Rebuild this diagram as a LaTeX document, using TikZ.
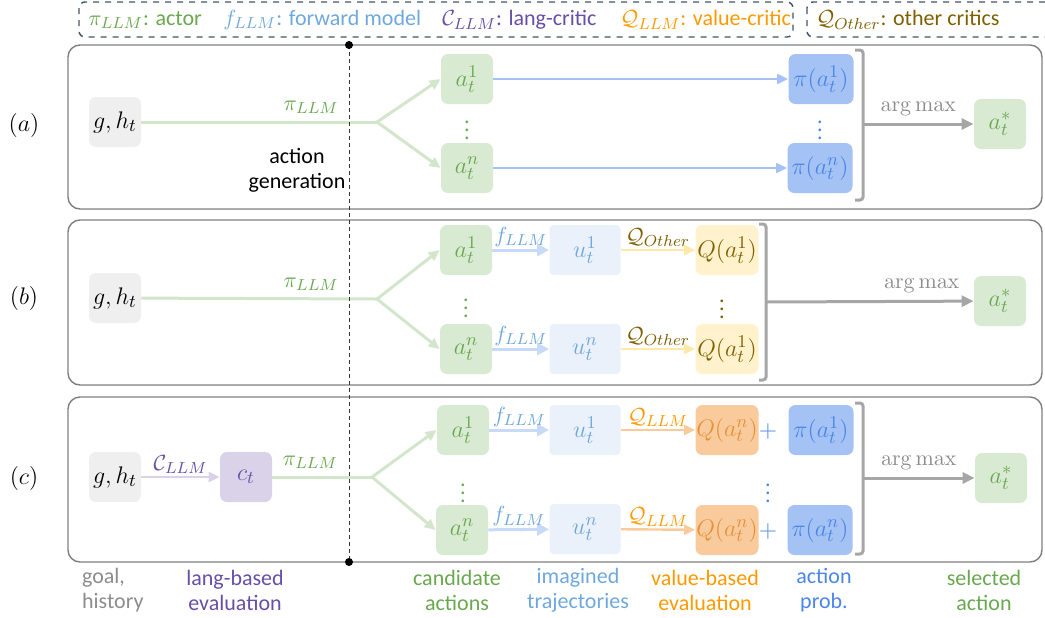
\documentclass[tikz,border=0pt]{standalone}
\usepackage[no-math]{fontspec}
\setmainfont{Carlito}
\usetikzlibrary{positioning, arrows.meta, calc}

\definecolor{goalfill}{HTML}{EFEFEF}
\definecolor{actfill}{HTML}{D9EAD3}
\definecolor{actgreen}{HTML}{6AA84F}
\definecolor{actedge}{HTML}{D3E6CC}
\definecolor{probfill}{HTML}{A4C2F4}
\definecolor{probblue}{HTML}{4A86E8}
\definecolor{trajfill}{HTML}{EAF1FB}
\definecolor{trajblue}{HTML}{6FA8DC}
\definecolor{trajedge}{HTML}{C9DAF8}
\definecolor{otherfill}{HTML}{FFF2CC}
\definecolor{otherbrown}{HTML}{7F6000}
\definecolor{otheredge}{HTML}{FFE8A8}
\definecolor{valfill}{HTML}{F9CB9C}
\definecolor{valorange}{HTML}{FF9900}
\definecolor{valtext}{HTML}{E69138}
\definecolor{critfill}{HTML}{D9D2E9}
\definecolor{critpurple}{HTML}{674EA7}
\definecolor{selgray}{HTML}{A6A6A6}
\definecolor{textgray}{HTML}{8C8C8C}
\definecolor{panelgray}{HTML}{7F7F7F}
\definecolor{legendslate}{HTML}{44546A}

\begin{document}
\begin{tikzpicture}[x=0.5pt, y=-0.5pt,
    every node/.style={font=\fontsize{11}{12.5}\selectfont},
    box/.style={rectangle, rounded corners=3.5pt, inner sep=0pt, minimum width=26pt, minimum height=25pt, text centered, font=\fontsize{12.5}{14}\selectfont},
    goal/.style={box, fill=goalfill},
    cand/.style={box, fill=actfill, text=actgreen},
    prob/.style={box, fill=probfill, text=probblue, minimum width=32.5pt},
    traj/.style={box, fill=trajfill, text=trajblue, minimum width=35.5pt, rounded corners=2pt},
    qother/.style={box, fill=otherfill, text=otherbrown, minimum width=31.5pt},
    qllm/.style={box, fill=valfill, text=valtext, minimum width=31.5pt},
    crit/.style={box, fill=critfill, text=critpurple},
    key/.style={anchor=west, inner sep=0pt},
    panel/.style={draw=panelgray, line width=0.7pt, rounded corners=6pt},
    legend/.style={draw=legendslate, dashed, line width=0.7pt, rounded corners=3pt},
    genline/.style={draw=actedge, line width=1.5pt},
    genarrow/.style={genline, -{Triangle[length=5.5pt, width=5pt]}},
    probarrow/.style={draw=probfill, line width=1pt, -{Triangle[length=5.5pt, width=5pt]}},
    fwdarrow/.style={draw=trajedge, line width=1.5pt, -{Triangle[length=6pt, width=6pt]}},
    otherarrow/.style={draw=otheredge, line width=1.2pt, -{Triangle[length=5.5pt, width=5pt]}},
    valarrow/.style={draw=valfill, line width=1.2pt, -{Triangle[length=5.5pt, width=5pt]}},
    critarrow/.style={draw=critfill, line width=1.2pt, -{Triangle[length=5.5pt, width=5pt]}},
    selarrow/.style={draw=selgray, line width=1.5pt, -{Triangle[length=6pt, width=5.5pt]}},
    bracket/.style={draw=selgray, line width=1.5pt, rounded corners=1.5pt},
    divider/.style={draw=black!80, line width=0.5pt, dash pattern=on 2pt off 1.5pt},
]
\useasboundingbox (0,0) rectangle (1045,617);

% Legend boxes
\draw[legend] (79,2) rectangle (793,37);
\draw[legend] (807,2) rectangle (1060,37);
\node[key, text=actgreen] (keyAct) at (88,20) {$\pi_{LLM}$: actor};
\node[key, text=trajblue] (keyFwd) at (223,20) {$f_{LLM}$: forward model};
\node[key, text=critpurple] (keyCrit) at (442,20) {$\mathcal{C}_{LLM}$: lang-critic};
\node[key, text=valorange] (keyVal) at (620,20) {$\mathcal{Q}_{LLM}$: value-critic};
\node[key, text=otherbrown] (keyOther) at (816,20) {$\mathcal{Q}_{Other}$: other critics};

% Panels
\draw[panel] (68,45) rectangle (1042,209);
\draw[panel] (68,220) rectangle (1042,385);
\draw[panel] (68,397) rectangle (1042,562);
\node[font=\fontsize{12}{14}\selectfont] (labA) at (24,125) {$(a)$};
\node[font=\fontsize{12}{14}\selectfont] (labB) at (24,298) {$(b)$};
\node[font=\fontsize{12}{14}\selectfont] (labC) at (24,478) {$(c)$};

% Panel (a): actor only
\node[goal] (goalA) at (115,122) {$g,h_t$};
\coordinate (forkA) at (377,122);
\node[cand] (candA1) at (467,79) {$a_t^1$};
\node[cand] (candAn) at (467,168) {$a_t^n$};
\node[text=actgreen] (dotsA) at (467,124) {$\vdots$};
\node[prob] (probA1) at (821,79) {$\pi(a_t^1)$};
\node[prob] (probAn) at (820,168) {$\pi(a_t^n)$};
\node[text=probblue] (pdotsA) at (820,124) {$\vdots$};
\node[cand] (selA) at (1000,124) {$a_t^*$};
\coordinate (braceA) at (863,124);
\node[align=center] (genText) at (297,170) {action\\generation};

\draw[genline] (goalA) -- node[above, text=actgreen, pos=0.72] {$\pi_{LLM}$} (forkA);
\draw[genarrow] (forkA) -- (candA1.west);
\draw[genarrow] (forkA) -- (candAn.west);
\draw[probarrow] (candA1) -- (probA1);
\draw[probarrow] (candAn) -- (probAn);
\draw[bracket] (855,50) -- (863,50) -- (863,200) -- (855,200);
\draw[selarrow] (braceA) -- node[above, text=textgray] {$\arg\max$} (selA);

% Panel (b): other critics
\node[goal] (goalB) at (115,298) {$g,h_t$};
\coordinate (forkB) at (377,299);
\node[cand] (candB1) at (466,250) {$a_t^1$};
\node[cand] (candBn) at (466,349) {$a_t^n$};
\node[text=actgreen] (dotsB) at (466,302) {$\vdots$};
\node[traj] (trajB1) at (585,250) {$u_t^1$};
\node[traj] (trajBn) at (585,349) {$u_t^n$};
\node[qother] (qB1) at (727,250) {$Q(a_t^1)$};
\node[qother] (qBn) at (727,349) {$Q(a_t^1)$};
\node[text=otherbrown] (qdotsB) at (722,303) {$\vdots$};
\node[cand] (selB) at (1000,301) {$a_t^*$};
\coordinate (braceB) at (766,302);

\draw[genline] (goalB) -- node[above, text=actgreen, pos=0.72] {$\pi_{LLM}$} (forkB);
\draw[genarrow] (forkB) -- (candB1.west);
\draw[genarrow] (forkB) -- (candBn.west);
\draw[fwdarrow] (candB1) -- node[above, text=trajblue, inner sep=1pt] {$f_{LLM}$} (trajB1);
\draw[fwdarrow] (candBn) -- node[above, text=trajblue, inner sep=1pt] {$f_{LLM}$} (trajBn);
\draw[otherarrow] (trajB1) -- node[above, text=otherbrown, inner sep=1pt] {$\mathcal{Q}_{Other}$} (qB1);
\draw[otherarrow] (trajBn) -- node[above, text=otherbrown, inner sep=1pt] {$\mathcal{Q}_{Other}$} (qBn);
\draw[bracket] (759,224) -- (766,224) -- (766,380) -- (759,380);
\draw[selarrow] (braceB) -- node[above, text=textgray, pos=0.75] {$\arg\max$} (selB);

% Panel (c): lang-critic and value-critic
\node[goal] (goalC) at (115,477) {$g,h_t$};
\node[crit] (critC) at (246,477) {$c_t$};
\coordinate (forkC) at (372,477);
\node[cand] (candC1) at (463,430) {$a_t^1$};
\node[cand] (candCn) at (462,530) {$a_t^n$};
\node[text=actgreen] (dotsC) at (463,487) {$\vdots$};
\node[traj] (trajC1) at (585,430) {$u_t^1$};
\node[traj] (trajCn) at (585,529) {$u_t^n$};
\node[qllm] (qC1) at (727,430) {$Q(a_t^n)$};
\node[qllm] (qCn) at (727,530) {$Q(a_t^n)$};
\node[text=probblue, font=\fontsize{12}{14}\selectfont] (plusC1) at (768,431) {$+$};
\node[text=probblue, font=\fontsize{12}{14}\selectfont] (plusCn) at (768,531) {$+$};
\node[text=probblue] (pdotsC) at (768,487) {$\vdots$};
\node[prob] (probC1) at (821,430) {$\pi(a_t^1)$};
\node[prob] (probCn) at (820,530) {$\pi(a_t^n)$};
\node[cand] (selC) at (1001,478) {$a_t^*$};
\coordinate (braceC) at (863,478);

\draw[critarrow] (goalC) -- node[above, text=critpurple, inner sep=1pt] {$\mathcal{C}_{LLM}$} (critC);
\draw[genline] (critC) -- node[above, text=actgreen, pos=0.38] {$\pi_{LLM}$} (forkC);
\draw[genarrow] (forkC) -- (candC1.west);
\draw[genarrow] (forkC) -- (candCn.west);
\draw[fwdarrow] (candC1) -- node[above, text=trajblue, inner sep=1pt] {$f_{LLM}$} (trajC1);
\draw[fwdarrow] (candCn) -- node[above, text=trajblue, inner sep=1pt] {$f_{LLM}$} (trajCn);
\draw[valarrow] (trajC1) -- node[above, text=valorange, inner sep=1pt] {$\mathcal{Q}_{LLM}$} (qC1);
\draw[valarrow] (trajCn) -- node[above, text=valorange, inner sep=1pt] {$\mathcal{Q}_{LLM}$} (qCn);
\draw[bracket] (855,403) -- (863,403) -- (863,554) -- (855,554);
\draw[selarrow] (braceC) -- node[above, text=textgray] {$\arg\max$} (selC);

% Dashed divider between generation and evaluation
\coordinate (divTop) at (349,45);
\coordinate (divBot) at (349,562);
\draw[divider] (divTop) -- (divBot);
\fill (divTop) circle (2pt);
\fill (divBot) circle (2pt);

% Column captions
\node[anchor=west, align=left, text=textgray] (capGoal) at (75,590) {goal,\\history};
\node[align=center, text=critpurple] (capCrit) at (235,590) {lang-based\\evaluation};
\node[align=center, text=actgreen] (capCand) at (457,590) {candidate\\actions};
\node[align=center, text=trajblue] (capTraj) at (578,590) {imagined\\trajectories};
\node[align=center, text=valorange] (capVal) at (705,590) {value-based\\evaluation};
\node[align=center, text=probblue] (capProb) at (824,590) {action\\prob.};
\node[align=center, text=actgreen] (capSel) at (984,590) {selected\\action};

\end{tikzpicture}
\end{document}
